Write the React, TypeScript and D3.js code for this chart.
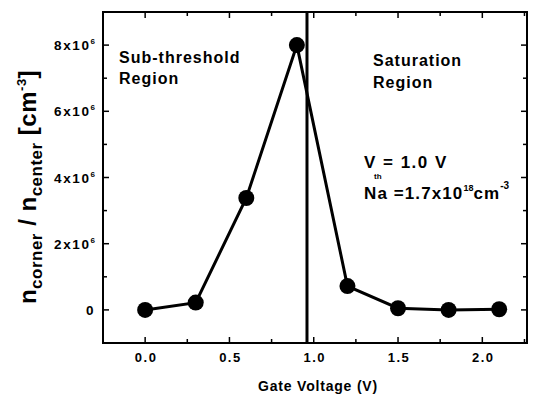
import React, {useEffect, useRef} from "react";
import * as d3 from "d3";

const gateVoltage = [0.0, 0.3, 0.6, 0.9, 1.2, 1.5, 1.8, 2.1];
const ratio = [0, 0.22e6, 3.38e6, 8.0e6, 0.72e6, 0.05e6, 0.0, 0.02e6];
const xTicks = [0, 0.5, 1.0, 1.5, 2.0];
const xTickLabels = ["0.0", "0.5", "1.0", "1.5", "2.0"];
const yTicks = [0, 2e6, 4e6, 6e6, 8e6];
const yTickLabels = ["0", "2x10", "4x10", "6x10", "8x10"];
const thresholdV = 0.96;

const W = 534, H = 396;
const margin = {left: 103, right: 7, top: 12, bottom: 53};
const FONT = "'Liberation Sans', Arial, sans-serif";

const App = () => {
    const ref = useRef<SVGSVGElement>(null);

    useEffect(() => {
        if (!ref.current) return;
        const svg = d3.select(ref.current);
        svg.selectAll("*").remove();

        const x = d3.scaleLinear().domain([-0.25, 2.265]).range([margin.left, W - margin.right]);
        const y = d3.scaleLinear().domain([-1e6, 9e6]).range([H - margin.bottom, margin.top]);

        svg.append("rect").attr("width", W).attr("height", H).attr("fill", "#fff");

        const g = svg.append("g").attr("font-family", FONT).attr("font-weight", "bold");

        // ticks: major + minor, pointing inward on all 4 sides
        const xMinor = d3.range(-0.25, 2.3, 0.25);
        const yMinor = d3.range(-1e6, 9.01e6, 1e6);
        const x0 = x.range()[0], x1 = x.range()[1];
        const y0 = y.range()[0], y1 = y.range()[1];

        xMinor.forEach(v => {
            const isMajor = xTicks.some(t => Math.abs(t - v) < 1e-6);
            const len = isMajor ? 6 : 4;
            g.append("line").attr("x1", x(v)).attr("x2", x(v)).attr("y1", y0).attr("y2", y0 - len)
                .attr("stroke", "#000").attr("stroke-width", 1.5);
            g.append("line").attr("x1", x(v)).attr("x2", x(v)).attr("y1", y1).attr("y2", y1 + len)
                .attr("stroke", "#000").attr("stroke-width", 1.5);
        });
        yMinor.forEach(v => {
            const isMajor = yTicks.some(t => Math.abs(t - v) < 1);
            const len = isMajor ? 6 : 4;
            g.append("line").attr("x1", x0).attr("x2", x0 + len).attr("y1", y(v)).attr("y2", y(v))
                .attr("stroke", "#000").attr("stroke-width", 1.5);
            g.append("line").attr("x1", x1).attr("x2", x1 - len).attr("y1", y(v)).attr("y2", y(v))
                .attr("stroke", "#000").attr("stroke-width", 1.5);
        });

        // frame
        g.append("rect").attr("x", x0).attr("y", y1).attr("width", x1 - x0).attr("height", y0 - y1)
            .attr("fill", "none").attr("stroke", "#000").attr("stroke-width", 2);

        // threshold line
        g.append("line").attr("x1", x(thresholdV)).attr("x2", x(thresholdV)).attr("y1", y1).attr("y2", y0)
            .attr("stroke", "#000").attr("stroke-width", 3);

        // x tick labels
        xTicks.forEach((v, i) => {
            g.append("text").attr("x", x(v) + 1).attr("y", y0 + 19).attr("text-anchor", "middle")
                .attr("font-size", 13).attr("letter-spacing", 1.5).text(xTickLabels[i]);
        });

        // y tick labels
        yTicks.forEach((v, i) => {
            const t = g.append("text").attr("x", 95).attr("y", y(v) + 5).attr("text-anchor", "end")
                .attr("font-size", 13.5).attr("letter-spacing", 1.6);
            if (v === 0) {
                t.text(yTickLabels[i]);
            } else {
                t.append("tspan").text(yTickLabels[i]);
                t.append("tspan").attr("font-size", 8).attr("letter-spacing", 0).attr("dy", -6).text("6");
            }
        });

        // data line + markers
        const line = d3.line<number>().x((d, i) => x(gateVoltage[i])).y(d => y(d));
        g.append("path").datum(ratio).attr("d", line).attr("fill", "none")
            .attr("stroke", "#000").attr("stroke-width", 3);
        g.selectAll("circle.pt").data(ratio).enter().append("circle")
            .attr("cx", (d, i) => x(gateVoltage[i])).attr("cy", d => y(d)).attr("r", 8)
            .attr("fill", "#000");

        // annotations
        const note = (tx: number, ty: number, s: string) =>
            g.append("text").attr("x", tx).attr("y", ty).attr("font-size", 16)
                .attr("letter-spacing", 1).text(s);
        note(119, 63, "Sub-threshold");
        note(119, 84, "Region");
        note(373, 66, "Saturation");
        note(373, 88, "Region");

        g.append("text").attr("x", 364).attr("y", 168).attr("font-size", 17).text("V");
        g.append("text").attr("x", 374).attr("y", 179).attr("font-size", 8).text("th");
        g.append("text").attr("x", 383).attr("y", 168).attr("font-size", 17)
            .attr("letter-spacing", 1.5).text("= 1.0 V");

        const na = g.append("text").attr("x", 364).attr("y", 199).attr("font-size", 17)
            .attr("letter-spacing", 1.1);
        na.append("tspan").text("Na =1.7x10");
        na.append("tspan").attr("font-size", 9).attr("letter-spacing", 0).attr("dy", -8).text("18");
        na.append("tspan").attr("dy", 8).text("cm");
        na.append("tspan").attr("font-size", 10).attr("letter-spacing", 0).attr("dy", -10).text("-3");

        // x axis title
        g.append("text").attr("x", 318).attr("y", 391).attr("text-anchor", "middle")
            .attr("font-size", 14).attr("letter-spacing", 0.8).text("Gate Voltage (V)");

        // y axis title
        const yl = g.append("text").attr("transform", "translate(36,187) rotate(-90)")
            .attr("text-anchor", "middle").attr("font-size", 24).attr("letter-spacing", 0.5);
        yl.append("tspan").text("n");
        yl.append("tspan").attr("font-size", 17).attr("dy", 6).text("corner");
        yl.append("tspan").attr("dy", -6).text(" / n");
        yl.append("tspan").attr("font-size", 17).attr("dy", 6).text("center");
        yl.append("tspan").attr("dy", -6).text(" [cm");
        yl.append("tspan").attr("font-size", 13).attr("dy", -10).text("-3");
        yl.append("tspan").attr("dy", 10).text("]");
    }, []);

    return (
        <svg ref={ref} width={W} height={H}
             style={{position: "absolute", left: 0, top: 0, display: "block"}}></svg>
    );
};

export default App;
